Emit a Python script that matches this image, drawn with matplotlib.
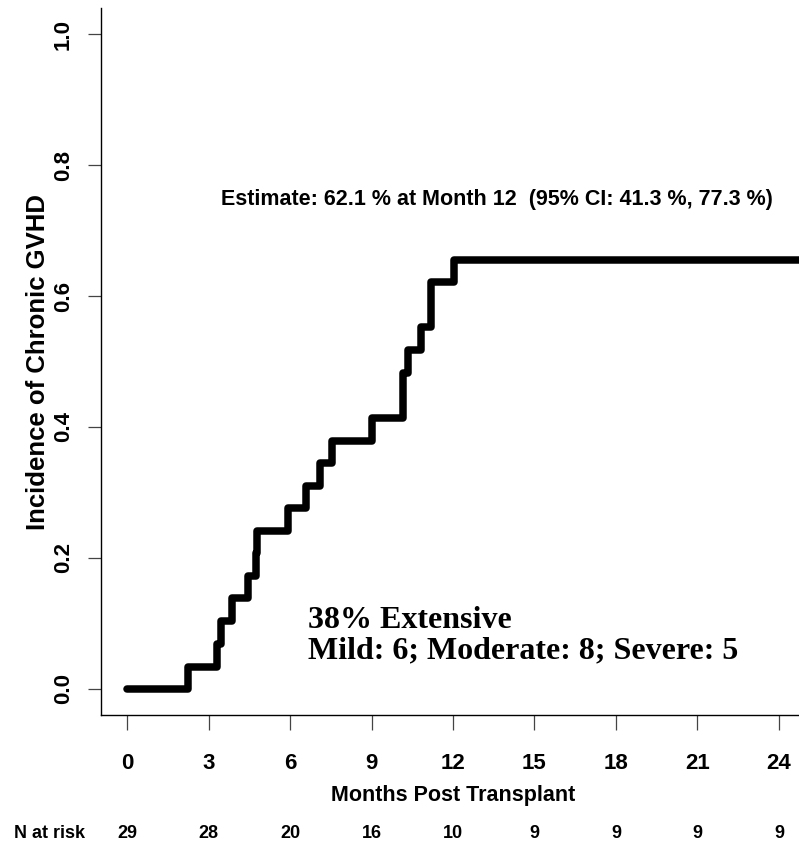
import matplotlib
matplotlib.use("Agg")
import matplotlib.pyplot as plt
import matplotlib.transforms as mtransforms

# ── Data ─────────────────────────────────────────────────────────────────────
EVENT_MONTHS = [0, 2.24, 3.32, 3.44, 3.87, 4.46, 4.73, 4.78, 5.93, 6.6, 7.1,
                7.53, 9.0, 10.16, 10.34, 10.83, 11.2, 12.03, 26.0]
INCIDENCE = [0.0, 0.034, 0.069, 0.103, 0.138, 0.172, 0.207, 0.241, 0.276,
             0.310, 0.345, 0.379, 0.414, 0.483, 0.517, 0.552, 0.621, 0.655, 0.655]

X_TICKS = [0, 3, 6, 9, 12, 15, 18, 21, 24]
Y_TICKS = [0.0, 0.2, 0.4, 0.6, 0.8, 1.0]
N_AT_RISK = [29, 28, 20, 16, 10, 9, 9, 9, 9]

ESTIMATE_TXT = "Estimate: 62.1 % at Month 12  (95% CI: 41.3 %, 77.3 %)"
SEVERITY_TXT = "38% Extensive\nMild: 6; Moderate: 8; Severe: 5"

SANS = "Liberation Sans"
SERIF = "Liberation Serif"

# ── Figure ───────────────────────────────────────────────────────────────────
W, H = 799, 848
fig = plt.figure(figsize=(W / 100, H / 100), dpi=100)
ax = fig.add_axes([101 / W, 1 - 715 / H, (805 - 101) / W, (715 - 8) / H])

ax.step(EVENT_MONTHS, INCIDENCE, where="post", color="black", linewidth=5.4,
        solid_capstyle="round", solid_joinstyle="round")

ax.set_xlim(-0.96, 24.96)
ax.set_ylim(-0.04, 1.04)

for s in ("top", "right"):
    ax.spines[s].set_visible(False)
for s in ("left", "bottom"):
    ax.spines[s].set_linewidth(1.0)

ax.set_xticks(X_TICKS)
ax.set_yticks(Y_TICKS)
ax.set_xticklabels([str(t) for t in X_TICKS], fontfamily=SANS, fontweight="bold", fontsize=16)
ax.set_yticklabels([f"{t:.1f}" for t in Y_TICKS], fontfamily=SANS, fontweight="bold",
                   fontsize=16, rotation=90, va="center")
ax.tick_params(axis="x", length=10.5, width=0.9, color="#444444", pad=17)
ax.tick_params(axis="y", length=9.5, width=0.9, color="#444444", pad=10)

ax.set_xlabel("Months Post Transplant", fontfamily=SANS, fontweight="bold", fontsize=15.5, labelpad=8)
ax.set_ylabel("Incidence of Chronic GVHD", fontfamily=SANS, fontweight="bold", fontsize=18.5, labelpad=2)

ax.text(497 / W, 1 - 199 / H, ESTIMATE_TXT, transform=fig.transFigure, ha="center", va="center",
        fontfamily=SANS, fontweight="bold", fontsize=15.5)
ax.text(6.66, 0.081, SEVERITY_TXT, ha="left", va="center", fontfamily=SERIF,
        fontweight="bold", fontsize=23, linespacing=1.05)

# number at risk row
trans = mtransforms.blended_transform_factory(ax.transData, fig.transFigure)
y_risk = 1 - 833 / H
fig.text(14 / W, y_risk, "N at risk", ha="left", va="center",
         fontfamily=SANS, fontweight="bold", fontsize=13)
for t, n in zip(X_TICKS, N_AT_RISK):
    ax.text(t, y_risk, str(n), transform=trans, ha="center", va="center",
            fontfamily=SANS, fontweight="bold", fontsize=13, clip_on=False)

fig.savefig("out.png", dpi=100)
